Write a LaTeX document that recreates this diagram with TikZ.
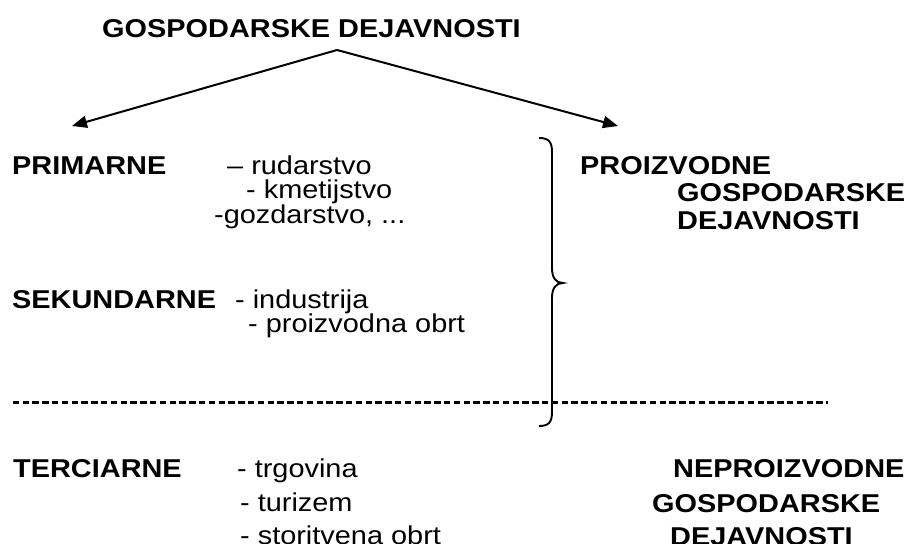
\documentclass[tikz,border=0pt]{standalone}
\usepackage{fontspec}
\setmainfont{Liberation Sans}[FakeStretch=1.12]
\usetikzlibrary{arrows.meta}
\newcommand\docfont{\fontsize{25.8bp}{26bp}\selectfont}

\begin{document}
\begin{tikzpicture}[x=1bp, y=-1bp,
  kind/.style={anchor=base west, inner sep=0pt, font=\docfont\bfseries},
  item/.style={anchor=base west, inner sep=0pt, font=\docfont},
  link/.style={line width=2bp, -{Triangle[length=15bp,width=12bp]}},
  brace/.style={line width=1.9bp},
  rule/.style={line width=2.6bp, dash pattern=on 6.5bp off 3.3bp}]
  \useasboundingbox (0,0) rectangle (907,544);

  \node[kind] (title) at (102,38) {GOSPODARSKE DEJAVNOSTI};
  \coordinate (apex) at (337,50);
  \coordinate (lefttip) at (72,126);
  \coordinate (righttip) at (618,126);
  \draw[link] (apex) -- (lefttip);
  \draw[link] (apex) -- (righttip);

  \node[kind] (primarne) at (12,175) {PRIMARNE};
  \node[item] (rudarstvo) at (227,175) {– rudarstvo};
  \node[item] (kmetijstvo) at (246,199) {- kmetijstvo};
  \node[item] (gozdarstvo) at (214,224) {-gozdarstvo, ...};

  \node[kind] (sekundarne) at (12,309) {SEKUNDARNE};
  \node[item] (industrija) at (235,309) {- industrija};
  \node[item] (pobrt) at (248,333) {- proizvodna obrt};

  \node[kind] (proizv) at (580,175) {PROIZVODNE};
  \node[kind] (proizvgosp) at (677,202) {GOSPODARSKE};
  \node[kind] (proizvdej) at (677,230) {DEJAVNOSTI};

  \draw[brace] (539,138) .. controls (549,138) and (552,142) .. (552,152)
    -- (552,268) .. controls (552,278) and (556,283) .. (563,283)
    .. controls (556,283) and (552,288) .. (552,298)
    -- (552,412) .. controls (552,422) and (549,426) .. (539,426);

  \coordinate (ruleleft) at (12.7,402.7);
  \coordinate (ruleright) at (828,402.7);
  \draw[rule] (ruleleft) -- (ruleright);

  \node[kind] (terciarne) at (13,477) {TERCIARNE};
  \node[item] (trgovina) at (237,477) {- trgovina};
  \node[item] (turizem) at (240,511) {- turizem};
  \node[item] (sobrt) at (240,544) {- storitvena obrt};

  \node[kind] (neproizv) at (673,477) {NEPROIZVODNE};
  \node[kind] (neproizvgosp) at (652,512) {GOSPODARSKE};
  \node[kind] (neproizvdej) at (670,545) {DEJAVNOSTI};
\end{tikzpicture}
\end{document}
